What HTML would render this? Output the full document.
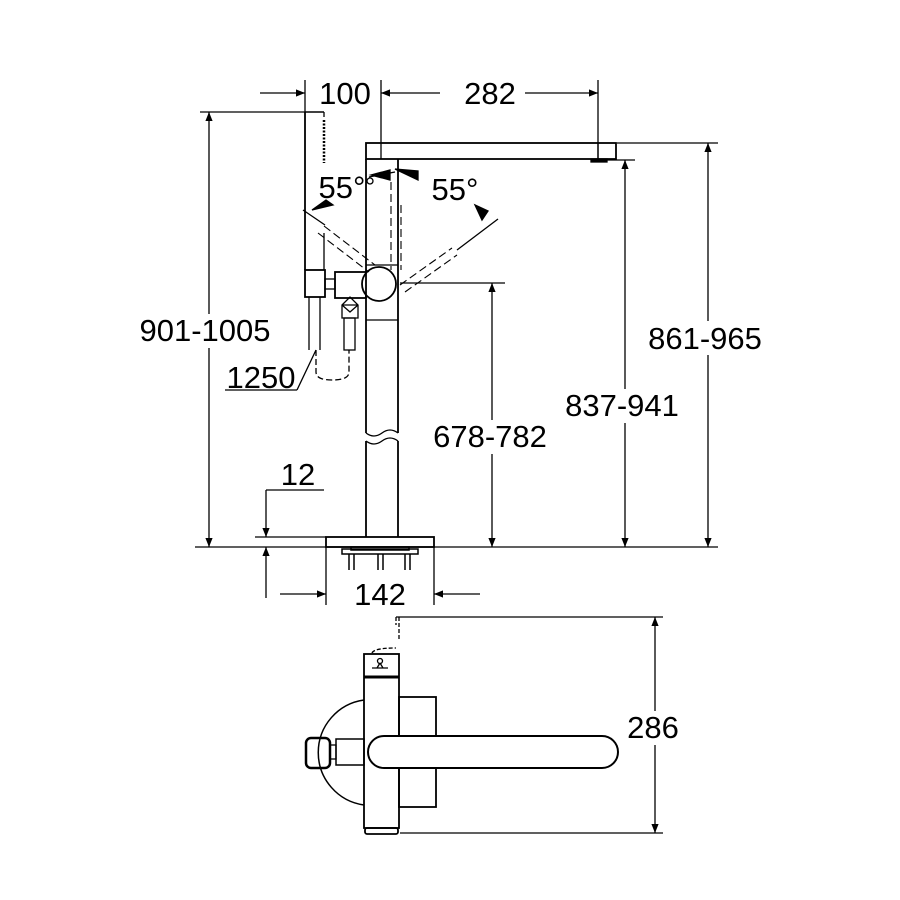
<!DOCTYPE html>
<html><head><meta charset="utf-8"><style>
html,body{margin:0;padding:0;background:#fff}
svg{display:block}
text{font-family:"Liberation Sans",Arial,sans-serif;fill:#000}
</style></head><body>
<svg width="900" height="900" viewBox="0 0 900 900" xmlns="http://www.w3.org/2000/svg">
<defs>
<marker id="a" viewBox="0 0 10 10" refX="10" refY="5" markerWidth="14" markerHeight="9" markerUnits="userSpaceOnUse" orient="auto"><path d="M0,1 L10,5 L0,9z" fill="#000"/></marker>
</defs>
<g stroke="#000" stroke-width="1.3" fill="none">
<line x1="305" y1="80" x2="305" y2="112"/>
<line x1="381" y1="80" x2="381" y2="143"/>
<line x1="598" y1="80" x2="598" y2="160"/>
<line x1="260" y1="93" x2="305" y2="93" marker-end="url(#a)"/>
<line x1="440" y1="93" x2="381" y2="93" marker-end="url(#a)"/>
<line x1="525" y1="93" x2="598" y2="93" marker-end="url(#a)"/>
<rect x="366" y="143" width="250" height="16" stroke-width="1.8"/>
<line x1="381" y1="143" x2="381" y2="159"/>
<line x1="598" y1="143" x2="598" y2="159"/>
<rect x="591" y="159" width="16" height="3" fill="#000"/>
<line x1="366" y1="159" x2="366" y2="433" stroke-width="1.8"/>
<line x1="398" y1="159" x2="398" y2="433" stroke-width="1.8"/>
<path d="M366,433 q8,6 16,0 t16,0" />
<path d="M366,441 q8,6 16,0 t16,0" />
<line x1="366" y1="441" x2="366" y2="537" stroke-width="1.8"/>
<line x1="398" y1="441" x2="398" y2="537" stroke-width="1.8"/>
<line x1="366" y1="265" x2="398" y2="265"/>
<line x1="366" y1="320" x2="398" y2="320"/>
<line x1="398" y1="176" x2="398" y2="205" stroke-width="1"/>
<circle cx="379" cy="284" r="17" stroke-width="1.8" fill="#fff"/>
<g stroke-dasharray="8,4" stroke-width="1.1">
<line x1="391" y1="182" x2="391" y2="270"/><line x1="401" y1="205" x2="401" y2="270"/>
<line x1="324" y1="226" x2="375" y2="265"/><line x1="318" y1="233" x2="369" y2="272"/>
<line x1="400" y1="285" x2="452" y2="248"/><line x1="405" y1="292" x2="457" y2="255"/>
</g>
<line x1="303" y1="210" x2="325" y2="225"/>
<line x1="457" y1="250" x2="498" y2="219"/>
<path d="M369,177 L395,172" /><path d="M395,169 L418,171 L418,180z" fill="#000"/>
<path d="M371,175 L390,170 L390,180z" fill="#000"/>
<circle cx="370" cy="181" r="3"/>
<path d="M312,210 L326,200 L333,205z" fill="#000"/>
<path d="M488,211 L475,205 L482,220z" fill="#000"/>
<line x1="305" y1="112" x2="305" y2="270" stroke-width="1.8"/>
<line x1="305" y1="112" x2="324" y2="112" stroke-width="1.5"/>
<line x1="324" y1="112" x2="324" y2="117"/>
<line x1="324" y1="120" x2="324" y2="163" stroke-dasharray="2,1.5" stroke-width="2.5"/>
<line x1="324" y1="233" x2="324" y2="270"/>
<rect x="305" y="270" width="20" height="27" stroke-width="1.8"/>
<rect x="325" y="279" width="10" height="10"/>
<rect x="335" y="272" width="31" height="26" stroke-width="1.8"/>
<path d="M342,305 L350,297 L358,305 L358,318 L342,318z"/><path d="M342,305 L358,305 M342,305 L350,312 L358,305"/>
<rect x="344" y="318" width="11" height="32"/>
<line x1="309" y1="297" x2="309" y2="350"/><line x1="320" y1="297" x2="320" y2="350"/>
<path d="M316,350 L316,372 Q316,380 332,380 Q349,380 349,372 L349,350" stroke-dasharray="6,3"/>
<line x1="225" y1="390" x2="297" y2="390"/><line x1="297" y1="390" x2="316" y2="350"/>
<line x1="200" y1="112" x2="305" y2="112"/>
<line x1="209" y1="330" x2="209" y2="112" marker-end="url(#a)"/>
<line x1="209" y1="330" x2="209" y2="547" marker-end="url(#a)"/>
<line x1="617" y1="143" x2="718" y2="143"/>
<line x1="607" y1="160" x2="635" y2="160"/>
<line x1="400" y1="283" x2="505" y2="283"/>
<line x1="708" y1="340" x2="708" y2="143" marker-end="url(#a)"/>
<line x1="708" y1="340" x2="708" y2="547" marker-end="url(#a)"/>
<line x1="625" y1="400" x2="625" y2="160" marker-end="url(#a)"/>
<line x1="625" y1="400" x2="625" y2="547" marker-end="url(#a)"/>
<line x1="492" y1="420" x2="492" y2="283" marker-end="url(#a)"/>
<line x1="492" y1="420" x2="492" y2="547" marker-end="url(#a)"/>
<line x1="195" y1="547" x2="718" y2="547"/>
<rect x="326" y="537" width="108" height="10" stroke-width="1.8"/>
<line x1="255" y1="537" x2="326" y2="537"/>
<g stroke-width="1.5">
<rect x="342" y="549" width="76" height="5"/>
<rect x="351" y="547" width="58" height="3"/>
<line x1="349" y1="554" x2="349" y2="570"/><line x1="354" y1="554" x2="354" y2="570"/>
<line x1="378" y1="554" x2="378" y2="570"/><line x1="383" y1="554" x2="383" y2="570"/>
<line x1="405" y1="554" x2="405" y2="570"/><line x1="410" y1="554" x2="410" y2="570"/>
</g>
<line x1="266" y1="490" x2="324" y2="490"/>
<line x1="266" y1="490" x2="266" y2="537" marker-end="url(#a)"/>
<line x1="266" y1="598" x2="266" y2="547" marker-end="url(#a)"/>
<line x1="326" y1="547" x2="326" y2="605"/><line x1="434" y1="547" x2="434" y2="605"/>
<line x1="280" y1="594" x2="326" y2="594" marker-end="url(#a)"/>
<line x1="480" y1="594" x2="434" y2="594" marker-end="url(#a)"/>
<line x1="396" y1="617" x2="663" y2="617"/>
<line x1="400" y1="833" x2="663" y2="833"/>
<line x1="655" y1="720" x2="655" y2="617" marker-end="url(#a)"/>
<line x1="655" y1="740" x2="655" y2="833" marker-end="url(#a)"/>
<path d="M396,617 L396,625 M399,617 L399,640" stroke-dasharray="4,2"/>
<path d="M364,700 A53,53 0 0 0 364,805" stroke-width="1.5"/>
<rect x="399" y="697" width="37" height="110" stroke-width="1.8"/>
<rect x="364" y="654" width="35" height="174" stroke-width="1.8"/>
<line x1="364" y1="677" x2="399" y2="677" stroke-width="3"/>
<path d="M372,653 Q374,648 396,648" stroke-dasharray="4,2"/>
<rect x="365" y="828" width="33" height="6" rx="2" stroke-width="1.8"/>
<circle cx="380" cy="661" r="2.5"/>
<path d="M372,668 L388,668 M380,663 L377,668 M380,663 L383,668"/>
<rect x="336" y="739" width="28" height="26" stroke-width="1.5"/>
<rect x="330" y="745" width="6" height="14"/>
<rect x="306" y="738" width="24" height="30" rx="5" stroke-width="2.5"/>
<rect x="368" y="736" width="250" height="32" rx="16" stroke-width="2" fill="#fff"/>
</g>
<g fill="#fff">
<rect x="138" y="314" width="134" height="34"/>
<rect x="646" y="321" width="118" height="34"/>
<rect x="563" y="389" width="118" height="34"/>
<rect x="431" y="420" width="118" height="34"/>
<rect x="624" y="711" width="58" height="34"/>
</g>
<g font-size="31">
<text x="345" y="104" text-anchor="middle">100</text>
<text x="490" y="104" text-anchor="middle">282</text>
<text x="342" y="198" text-anchor="middle">55°</text>
<text x="455" y="200" text-anchor="middle">55°</text>
<text x="205" y="341" text-anchor="middle">901-1005</text>
<text x="261" y="388" text-anchor="middle">1250</text>
<text x="705" y="349" text-anchor="middle">861-965</text>
<text x="622" y="416" text-anchor="middle">837-941</text>
<text x="490" y="447" text-anchor="middle">678-782</text>
<text x="298" y="485" text-anchor="middle">12</text>
<text x="380" y="605" text-anchor="middle">142</text>
<text x="653" y="738" text-anchor="middle">286</text>
</g>
</svg>
</body></html>
